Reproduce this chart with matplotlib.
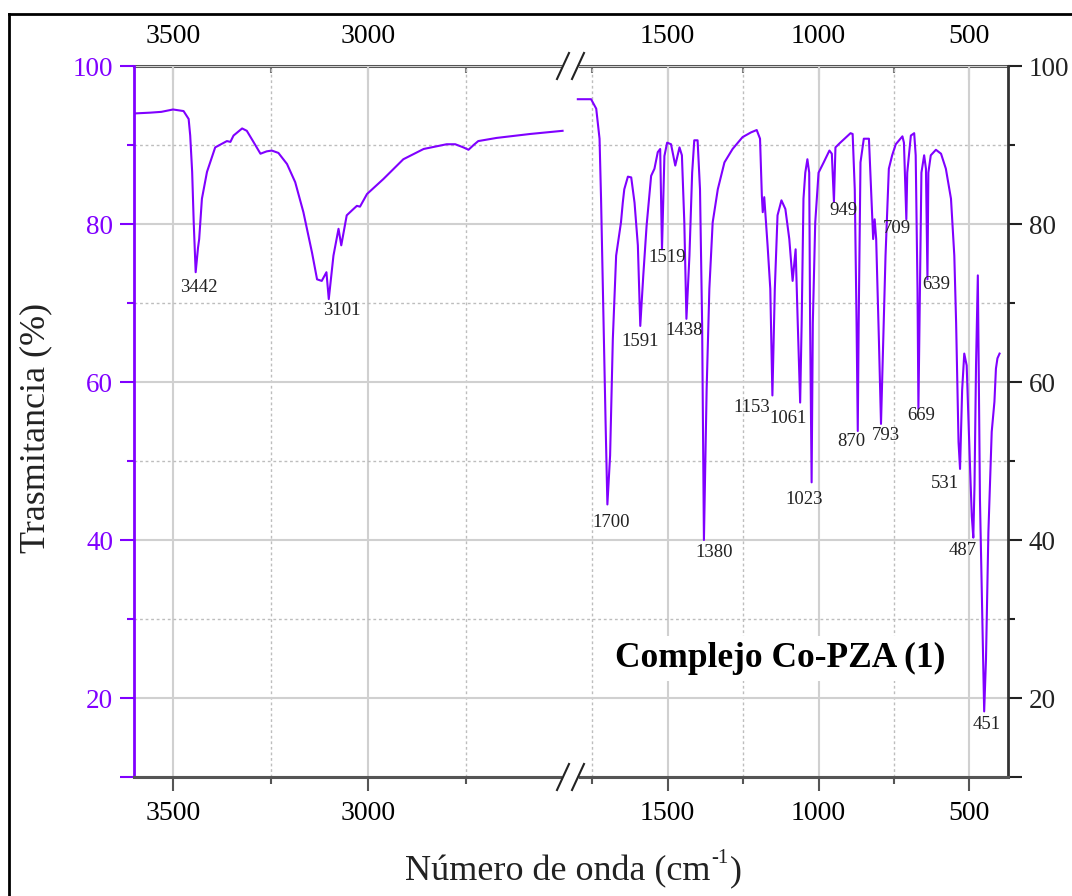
import matplotlib
matplotlib.use('Agg')
import matplotlib.pyplot as plt
from matplotlib.lines import Line2D

plt.rcParams['font.family'] = 'Liberation Serif'

# --- espectro IR, tramo alto (cm-1, % T)
onda_alta = [3599, 3558, 3530, 3500, 3473, 3460, 3456, 3451, 3447, 3442,
             3436, 3433, 3426, 3413, 3392, 3362, 3353, 3345, 3323, 3311,
             3294, 3276, 3260, 3247, 3230, 3208, 3187, 3166, 3144, 3131,
             3119, 3107, 3101, 3089, 3076, 3069, 3055, 3040, 3029, 3021,
             3003, 2961, 2910, 2858, 2799, 2777, 2756, 2743, 2730, 2718,
             2671, 2585, 2502]
trans_alta = [94.0, 94.1, 94.2, 94.5, 94.3, 93.3, 91.2, 86.6, 80.2, 73.9,
              77.0, 78.1, 83.2, 86.6, 89.7, 90.5, 90.4, 91.2, 92.1, 91.8,
              90.4, 88.9, 89.2, 89.3, 89.0, 87.6, 85.3, 81.5, 76.4, 73.0,
              72.8, 73.9, 70.5, 76.0, 79.4, 77.3, 81.1, 81.8, 82.3, 82.2,
              83.8, 85.7, 88.2, 89.5, 90.1, 90.1, 89.7, 89.4, 90.0, 90.5,
              90.9, 91.4, 91.8]

# --- tramo bajo
onda_baja = [1798, 1754, 1737, 1726, 1721, 1715, 1706, 1700, 1691, 1682,
             1671, 1655, 1649, 1644, 1632, 1621, 1610, 1599, 1591, 1581,
             1570, 1555, 1544, 1533, 1525, 1519, 1511, 1502, 1489, 1475,
             1461, 1453, 1445, 1438, 1428, 1419, 1412, 1401, 1393, 1386,
             1380, 1371, 1362, 1351, 1334, 1312, 1285, 1252, 1224, 1205,
             1194, 1188, 1185, 1180, 1169, 1160, 1153, 1145, 1136, 1123,
             1110, 1097, 1086, 1076, 1069, 1061, 1056, 1050, 1044, 1037,
             1031, 1028, 1023, 1019, 1011, 1000, 983, 964, 956, 949,
             944, 928, 894, 887, 880, 874, 870, 867, 861, 850,
             833, 826, 819, 814, 809, 800, 793, 787, 778, 767,
             756, 744, 722, 717, 709, 706, 694, 683, 678, 672,
             669, 664, 659, 650, 644, 639, 636, 628, 611, 594,
             578, 561, 550, 544, 536, 531, 524, 517, 509, 498,
             492, 487, 483, 478, 472, 465, 456, 451, 445, 437,
             426, 417, 412, 407, 400]
trans_baja = [95.8, 95.8, 94.6, 90.8, 83.2, 71.8, 54.9, 44.5, 50.7, 65.4,
              76.0, 80.2, 82.7, 84.4, 86.0, 85.9, 82.7, 77.3, 67.1, 73.5,
              79.8, 86.1, 87.0, 89.1, 89.5, 76.8, 88.6, 90.3, 90.1, 87.4,
              89.7, 88.7, 80.2, 68.0, 76.0, 86.5, 90.6, 90.6, 84.4, 67.5,
              40.0, 59.1, 71.8, 80.2, 84.4, 87.8, 89.5, 91.0, 91.6, 91.9,
              90.8, 83.6, 81.5, 83.4, 77.3, 71.8, 58.3, 71.8, 81.1, 83.0,
              81.9, 78.1, 72.8, 76.8, 67.5, 57.4, 67.5, 83.2, 86.5, 88.2,
              86.5, 67.5, 47.3, 67.5, 80.2, 86.5, 87.8, 89.3, 88.9, 82.8,
              89.7, 90.3, 91.5, 91.4, 84.4, 67.5, 53.8, 67.5, 87.8, 90.8,
              90.8, 84.4, 78.1, 80.6, 78.1, 65.4, 54.7, 63.3, 76.0, 87.0,
              88.7, 90.1, 91.1, 90.3, 80.6, 86.5, 91.2, 91.5, 88.7, 71.8,
              56.6, 71.8, 86.5, 88.7, 87.0, 73.0, 86.5, 88.7, 89.4, 88.9,
              87.0, 83.2, 76.0, 67.5, 52.4, 49.0, 59.0, 63.6, 62.1, 49.4,
              43.0, 40.3, 47.0, 62.1, 73.5, 45.2, 28.3, 18.3, 24.9, 41.0,
              53.7, 57.5, 61.7, 63.0, 63.6]

# --- bandas marcadas
picos_alta = [3442, 3101]
picos_alta_t = [73.9, 70.5]
picos_baja = [1700, 1591, 1519, 1438, 1380, 1153, 1061, 1023, 949,
              870, 793, 709, 669, 639, 531, 487, 451]
picos_baja_t = [44.5, 67.1, 76.8, 68.0, 40.0, 58.3, 57.4, 47.3, 82.8,
                53.8, 54.7, 80.6, 56.6, 73.0, 49.0, 40.3, 18.3]

# desplazamiento de cada etiqueta (pixeles, x derecha / y abajo)
desp_alta = [(3, 15), (13, 11)]
desp_baja = [(4, 18), (0, 16), (5, 8), (-2, 12), (10, 12), (-21, 12), (-12, 16),
             (-7, 17), (9, 9), (-6, 10), (5, 12), (-10, 9), (3, 7), (9, 5),
             (-15, 15), (-11, 13), (3, 13)]

morado = '#8000FF'
gris = '#555555'

fig = plt.figure(figsize=(10.72, 8.96), dpi=100)
abajo, arriba = 0.1328, 0.9263
izq, union, der = 0.125, 0.5317, 0.9403
ax1 = fig.add_axes([izq, abajo, union - izq, arriba - abajo])
ax2 = fig.add_axes([union, abajo, der - union, arriba - abajo])

ax1.plot(onda_alta, trans_alta, color=morado, lw=1.5, zorder=3)
ax2.plot(onda_baja, trans_baja, color=morado, lw=1.5, zorder=3)
ax1.set_xlim(3600, 2483)
ax2.set_xlim(1824, 372)

for ax in (ax1, ax2):
    ax.set_ylim(10, 100)
    ax.set_yticks([10, 20, 40, 60, 80, 100])
    ax.set_yticklabels(['', '20', '40', '60', '80', '100'])
    ax.set_yticks([30, 50, 70, 90], minor=True)
    ax.set_axisbelow(True)
    ax.grid(which='major', color='#d0d0d0', lw=1.5, ls='-')
    ax.grid(which='minor', color='#bdbdbd', lw=1.0, ls=(0, (2, 2)))
    ax.spines['top'].set_visible(False)
    ax.spines['bottom'].set_color(gris)
    ax.spines['bottom'].set_linewidth(2.2)
    ax.tick_params(axis='x', which='major', direction='out', length=10, width=1.5,
                   color=gris, labelsize=20, pad=7, top=False)
    ax.tick_params(axis='x', which='minor', direction='out', length=5, width=1.5,
                   color=gris, top=False)

ax1.set_xticks([3500, 3000])
ax1.set_xticks([3250, 2750], minor=True)
ax2.set_xticks([1500, 1000, 500])
ax2.set_xticks([1750, 1250, 750], minor=True)

# eje superior con marcas hacia dentro
for ax, mayores, menores in ((ax1, [3500, 3000], [3250, 2750]),
                             (ax2, [1500, 1000, 500], [1750, 1250, 750])):
    sup = ax.secondary_xaxis('top')
    sup.set_xticks(mayores)
    sup.set_xticks(menores, minor=True)
    sup.spines['top'].set_color(gris)
    sup.spines['top'].set_linewidth(2.2)
    sup.tick_params(which='major', direction='in', length=10, width=1.5,
                    color='#777777', labelsize=20, pad=12)
    sup.tick_params(which='minor', direction='in', length=5, width=1.5,
                    color='#777777')

# eje y izquierdo (morado)
ax1.spines['right'].set_visible(False)
ax1.spines['left'].set_color(morado)
ax1.spines['left'].set_linewidth(2)
ax1.tick_params(axis='y', which='major', direction='out', length=10, width=1.5,
                colors=morado, labelsize=19.5, pad=5, right=False)
ax1.tick_params(axis='y', which='minor', direction='out', length=5, width=1.5,
                colors=morado, right=False)

# eje y derecho (negro)
ax2.spines['left'].set_visible(False)
ax2.spines['right'].set_color('#333333')
ax2.spines['right'].set_linewidth(2)
ax2.yaxis.tick_right()
ax2.tick_params(axis='y', which='major', direction='out', length=10, width=1.5,
                colors='#222222', labelsize=19.5, pad=5, left=False)
ax2.tick_params(axis='y', which='minor', direction='out', length=5, width=1.5,
                colors='#222222', left=False)

# etiquetas de las bandas
for ax, xs, ys, desp in ((ax1, picos_alta, picos_alta_t, desp_alta),
                         (ax2, picos_baja, picos_baja_t, desp_baja)):
    for x, y, d in zip(xs, ys, desp):
        ax.annotate(str(x), (x, y), xytext=(d[0], -d[1]), textcoords='offset pixels',
                    ha='center', va='center', fontsize=13.5, color='#222222', zorder=4)

ax2.text(1127, 25, 'Complejo Co-PZA (1)', fontsize=25.5, fontweight='bold',
         ha='center', va='center', zorder=2,
         bbox=dict(facecolor='white', edgecolor='none', pad=4))

fig.text(0.033, 0.522, 'Trasmitancia (%)', rotation=90, fontsize=26,
         ha='center', va='center', color='#222222')

# titulo del eje x con el superindice a mano
t = fig.text(405 / 1072, 0.027, 'Número de onda (cm', fontsize=26,
             ha='left', va='center', color='#222222')
fig.canvas.draw()
bb = t.get_window_extent()
t2 = fig.text(bb.x1 / 1072 + 0.001, 0.042, '-1', fontsize=15,
              ha='left', va='center', color='#222222')
bb2 = t2.get_window_extent(renderer=fig.canvas.get_renderer())
fig.text(bb2.x1 / 1072 + 0.001, 0.027, ')', fontsize=26,
         ha='left', va='center', color='#222222')

# marcas de corte del eje
W, H = 1072.0, 896.0
for sy in (896 - 66, 896 - 777):
    fig.add_artist(Line2D([565 / W, 576 / W], [sy / H, sy / H], color='white', lw=4, zorder=5))
    for cx in (563, 578):
        fig.add_artist(Line2D([(cx - 6) / W, (cx + 6) / W], [(sy - 13) / H, (sy + 13) / H],
                              color='#222222', lw=1.5, zorder=6))

# marco de la figura
fig.add_artist(Line2D([9 / W, 1], [1 - 14 / H, 1 - 14 / H], color='black', lw=2))
fig.add_artist(Line2D([9 / W, 9 / W], [0, 1 - 14 / H], color='black', lw=2))

fig.savefig('out.png', dpi=100)
